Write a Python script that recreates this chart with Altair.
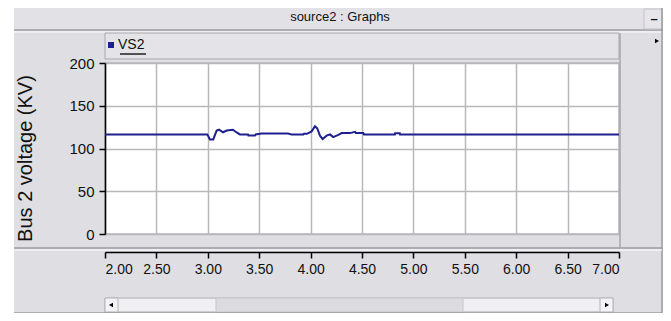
import altair as alt
import pandas as pd

# ---- data ----
time_s = [2.00, 2.995, 3.021, 3.053, 3.086, 3.109, 3.148, 3.184, 3.245, 3.280,
          3.313, 3.391, 3.395, 3.459, 3.465, 3.524, 3.780, 3.815, 3.930, 3.935,
          3.965, 4.010, 4.042, 4.065, 4.091, 4.117, 4.156, 4.189, 4.220, 4.270,
          4.302, 4.383, 4.432, 4.440, 4.513, 4.519, 4.820, 4.822, 4.868, 4.870,
          7.00]
vs2_kv = [116.5, 116.5, 110.6, 110.6, 121.0, 122.0, 119.0, 121.0, 122.0, 118.8,
          116.5, 116.5, 115.3, 115.3, 116.5, 117.6, 117.6, 116.5, 116.5, 117.2,
          117.2, 120.0, 126.0, 123.5, 115.0, 111.0, 115.0, 116.5, 113.3, 116.0,
          118.0, 118.0, 119.5, 118.0, 118.0, 116.5, 116.5, 117.8, 117.8, 116.5,
          116.5]
x_ticks = [2.0, 2.5, 3.0, 3.5, 4.0, 4.5, 5.0, 5.5, 6.0, 6.5, 7.0]
y_ticks = [0, 50, 100, 150, 200]

df = pd.DataFrame({"t": time_s, "v": vs2_kv})

NARROW = "Liberation Sans"
SANS = "Liberation Sans"
PANEL = "#dfdfe3"
EDGE = "#9c9ca0"
NAVY = "#1f1f8f"

# plot origin on the page (8px body margin + padding)
OX, OY = 105, 63
W, H = 514, 171

base = alt.Chart(pd.DataFrame({"k": [0]}))


def rect(x1, y1, x2, y2, fill, stroke=None, sw=1):
    kw = {"fill": fill}
    if stroke:
        kw.update(stroke=stroke, strokeWidth=sw)
    return base.mark_rect(**kw).encode(
        x=alt.value(x1 - OX), x2=alt.value(x2 - OX),
        y=alt.value(y1 - OY), y2=alt.value(y2 - OY))


def rule(x1, y1, x2, y2, color, sw=1):
    return base.mark_rule(color=color, strokeWidth=sw).encode(
        x=alt.value(x1 - OX), x2=alt.value(x2 - OX),
        y=alt.value(y1 - OY), y2=alt.value(y2 - OY))


def text(x, y, s, size=14, font=NARROW, align="left", color="#111111", weight="normal"):
    return base.mark_text(align=align, baseline="middle", font=font, fontSize=size,
                          color=color, fontWeight=weight).encode(
        x=alt.value(x - OX), y=alt.value(y - OY), text=alt.value(s))


def tri(x, y, shape):
    return base.mark_point(shape=shape, filled=True, color="black", size=22, opacity=1).encode(
        x=alt.value(x - OX), y=alt.value(y - OY))


decor = [
    # white page strip left of the window
    rect(8, 8, 14, 313, "white"),
    # title bar
    rect(14, 8, 663, 30, "#e2e2e6"),
    rule(14, 30, 663, 30, EDGE, 1.5),
    rule(14, 32, 663, 32, "white", 1),
    text(340, 17, "source2 : Graphs", size=13, align="center"),
    rect(644, 9, 662, 29, "#e6e6ea", "#c4c4c8"),
    text(654, 19, "–", size=13, align="center", weight="bold"),
    # legend bar
    rect(105, 33, 619, 59, "#e4e4e8", "#a8a8ac"),
    rect(108, 42, 114, 48, NAVY),
    text(118, 45, "VS2", size=14),
    rule(120, 54, 146, 54, "#222222", 1.5),
    # right column
    rule(620, 33, 620, 248, "#a8a8ac", 1.5),
    rule(662, 8, 662, 313, EDGE, 1.5),
    tri(657, 41, "triangle-right"),
    # separator above x axis
    rule(14, 248, 662, 248, EDGE, 1.5),
    rule(14, 250, 662, 250, "white", 1),
    # scroll bar
    rect(105, 298, 613, 312, "#e6e6ea", "#b4b4b8"),
    rect(118, 299, 216, 311, "#f0f0f2"),
    rect(463, 299, 600, 311, "#f0f0f2"),
    rect(216, 298, 463, 312, "#dcdce0", "#c8c8cc"),
    rect(105, 298, 118, 312, "#f4f4f6", "#b4b4b8"),
    rect(600, 298, 613, 312, "#f4f4f6", "#b4b4b8"),
    tri(111, 305, "triangle-left"),
    tri(607, 305, "triangle-right"),
    rule(14, 313, 662, 313, EDGE, 1.5),
]

line = alt.Chart(df).mark_line(color=NAVY, strokeWidth=2, interpolate="linear").encode(
    x=alt.X("t:Q", scale=alt.Scale(domain=[2, 7], nice=False, zero=False),
            axis=alt.Axis(values=x_ticks, format=".2f", title=None, offset=18,
                          domainColor="black", domainWidth=1.5, tickColor="black",
                          tickSize=6, tickWidth=1.5, labelFont=NARROW, labelFontSize=14,
                          labelColor="#111111", labelPadding=4,
                          grid=True, gridColor="#b8b8bc", gridWidth=1.5)),
    y=alt.Y("v:Q", scale=alt.Scale(domain=[0, 200], nice=False),
            axis=alt.Axis(values=y_ticks, title="Bus 2 voltage (KV)", domainColor="black",
                          domainWidth=1.5, tickColor="black", tickSize=6, tickWidth=1.5,
                          labelFont=NARROW, labelFontSize=15, labelColor="#111111",
                          labelPadding=5, titleFont=SANS, titleFontSize=20,
                          titleFontWeight="normal", titleColor="#111111",
                          titleX=-80, titleY=95, titleAngle=-90, titleAlign="center",
                          titleBaseline="middle",
                          grid=True, gridColor="#b8b8bc", gridWidth=1.5)),
)

chart = alt.layer(*decor, line).properties(
    width=W, height=H,
    padding={"left": OX - 8, "top": OY - 8, "right": 655 - (OX - 8) - W, "bottom": 305 - (OY - 8) - H},
    autosize=alt.AutoSizeParams(type="none"),
).configure(background=PANEL).configure_view(fill="white", stroke="#b8b8bc", strokeWidth=1.5)

chart.save("out.html", embed_options={"renderer": "svg", "actions": False})
